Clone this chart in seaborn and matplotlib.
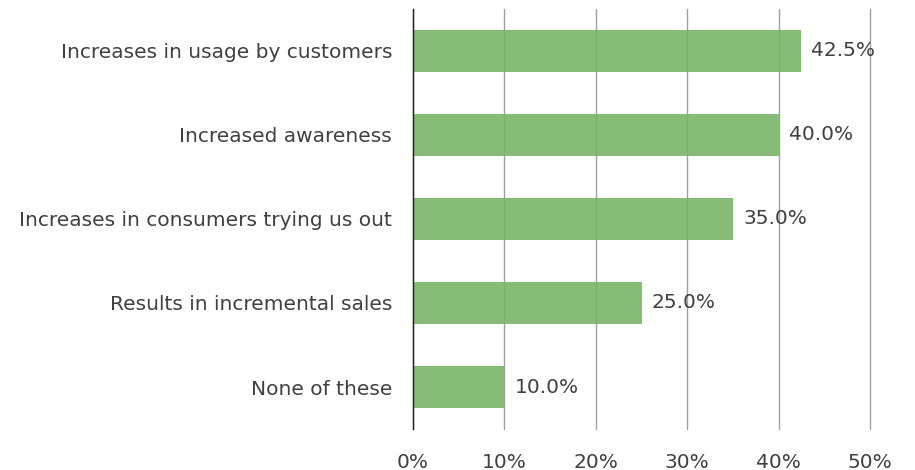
import numpy as np
import pandas as pd
import seaborn as sns
import matplotlib.pyplot as plt
from matplotlib.ticker import PercentFormatter

categories = ['Increases in usage by customers', 'Increased awareness',
              'Increases in consumers trying us out', 'Results in incremental sales',
              'None of these']
values = [42.5, 40.0, 35.0, 25.0, 10.0]

df = pd.DataFrame({'category': categories, 'value': values})

sns.set_style('white')
plt.rcParams['font.family'] = ['DejaVu Sans']

fig = plt.figure(figsize=(9.15, 4.7), dpi=100)
ax = fig.add_axes([0.4514, 0.0872, 0.4994, 0.8938])

# bars slightly transparent so the gridlines show faintly through them
sns.barplot(data=df, x='value', y='category', color='#79B569', saturation=1,
            width=0.5, alpha=0.9, linewidth=0, ax=ax, zorder=2)

ax.set_xlim(0, 50)
ax.set_ylim(4.5, -0.5)
ax.set_xticks(np.arange(0, 51, 10))
ax.xaxis.set_major_formatter(PercentFormatter(decimals=0))
ax.grid(axis='x', color='#A0A0A0', linewidth=1)
ax.set_axisbelow(True)
for gl in ax.get_xgridlines():
    gl.set_clip_on(False)
for s in ['top', 'right', 'bottom']:
    ax.spines[s].set_visible(False)
ax.spines['left'].set_color('#202020')
ax.spines['left'].set_linewidth(1)
ax.spines['left'].set_zorder(3)
ax.set_xlabel('')
ax.set_ylabel('')
ax.tick_params(axis='y', length=0, pad=15, labelsize=14.5, labelcolor='#404040')
ax.tick_params(axis='x', length=0, pad=17, labelsize=14.5, labelcolor='#404040')

for i, v in enumerate(values):
    ax.text(v + 1.1, i, f'{v:.1f}%', va='center', ha='left', fontsize=14.5,
            color='#404040', zorder=4)

fig.savefig('out.png', dpi=100)
